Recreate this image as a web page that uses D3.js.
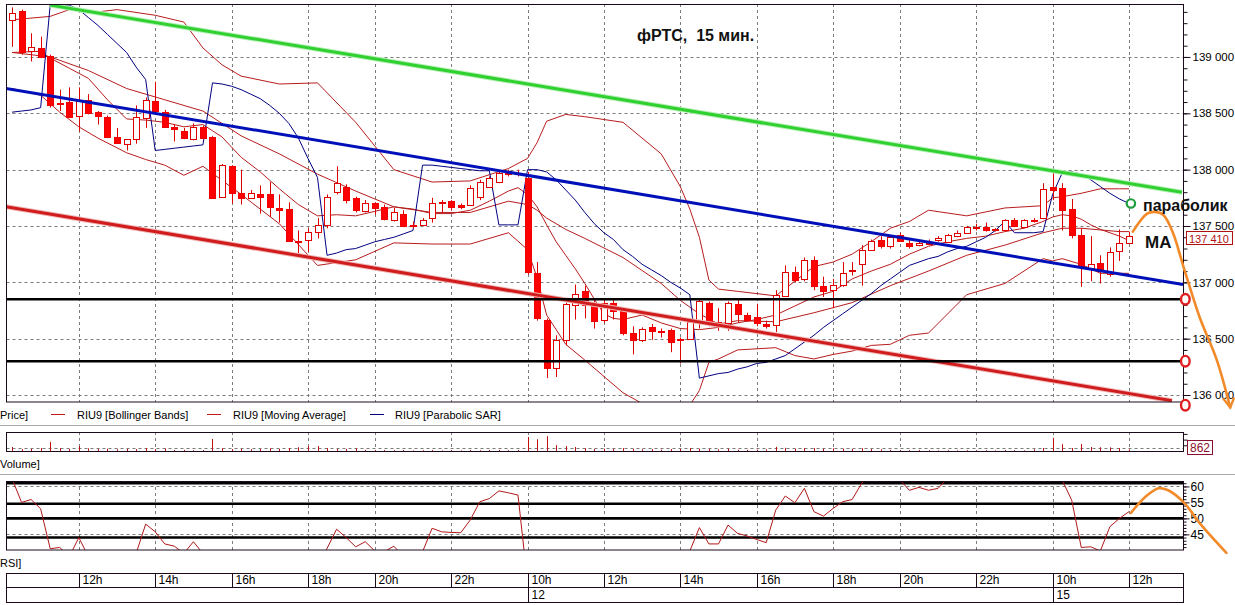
<!DOCTYPE html>
<html><head><meta charset="utf-8">
<script src="https://cdn.jsdelivr.net/npm/d3@7"></script>
<style>
body{margin:0;background:#fff;}
text{font-family:"Liberation Sans",Arial,sans-serif;}
</style>
</head><body>
<svg id="chart" width="1235" height="605"></svg>
<script>
// ---------------- DATA ----------------
const candleOpen=[139330,139410,139050,139080,139010,138590,138600,138480,138620,138510,138470,138290,138230,138270,138460,138610,138510,138380,138340,138270,138380,138290,137760,138030,137790,137750,137780,137780,137660,137650,137370,137380,137450,137510,137800,137850,137750,137630,137700,137670,137550,137610,137510,137510,137570,137700,137720,137690,137690,137760,137850,137890,137990,137970,137930,137080,136670,136240,136490,136800,136920,136800,136670,136820,136750,136550,136490,136600,136570,136580,136500,136500,136670,136820,136650,136640,136810,136710,136690,136630,136620,136880,137090,137030,137200,136970,136930,136980,137100,137160,137290,137380,137320,137420,137350,137330,137360,137380,137360,137410,137440,137480,137490,137460,137460,137550,137490,137550,137570,137850,137840,137650,137420,137130,137170,137070,137280,137350];
const candleHigh=[139440,139420,139210,139180,139020,138710,138730,138730,138670,138520,138480,138370,138270,138570,138640,138780,138530,138400,138370,138410,138390,138300,138050,138040,138000,137820,137860,137890,137780,137710,137460,137480,137570,137780,138030,137870,137760,137730,137710,137690,137660,137640,137540,137570,137750,137730,137730,137700,137860,137910,137940,137990,138000,138000,137980,137180,136680,136530,136820,136980,136970,136840,136860,136860,136760,136610,136600,136630,136590,136590,136510,136680,136850,136830,136770,136830,136850,136730,136810,136660,136930,137150,137140,137220,137230,137050,137030,137180,137180,137330,137380,137410,137420,137440,137380,137370,137380,137410,137430,137460,137500,137520,137530,137480,137560,137570,137560,137570,137880,137980,137880,137740,137480,137410,137240,137310,137470,137450];
const candleLow=[139090,139020,138960,138990,138550,138520,138460,138340,138490,138400,138280,138230,138170,138230,138370,138510,138370,138250,138270,138260,138270,137740,137750,137700,137690,137740,137610,137580,137530,137360,137240,137270,137390,137480,137780,137700,137620,137620,137600,137550,137540,137490,137480,137500,137530,137620,137640,137650,137680,137730,137840,137880,137940,137940,137070,136660,136150,136160,136440,136670,136680,136590,136640,136670,136530,136360,136470,136490,136510,136380,136280,136490,136590,136610,136570,136570,136640,136650,136610,136590,136560,136870,137000,137010,136930,136870,136770,136960,137060,136970,137280,137300,137300,137360,137300,137320,137330,137360,137350,137400,137430,137460,137450,137450,137450,137490,137480,137530,137560,137730,137460,137390,136960,137010,136990,137050,137190,137340];
const candleClose=[139390,139040,139090,139000,138570,138580,138470,138620,138500,138480,138290,138240,138270,138470,138620,138520,138380,138360,138280,138380,138280,137750,138040,137790,137750,137790,137760,137670,137640,137370,137360,137450,137510,137760,137880,137730,137640,137700,137660,137560,137620,137500,137500,137550,137700,137710,137670,137670,137840,137890,137930,137970,137960,137960,137090,136680,136240,136490,136810,136900,136800,136660,136820,136750,136550,136490,136590,136570,136560,136470,136490,136650,136830,136630,136620,136820,136720,136670,136640,136610,136890,137090,137020,137200,136970,136920,136980,137080,137110,137290,137370,137320,137400,137370,137320,137350,137340,137390,137420,137440,137490,137490,137460,137470,137550,137500,137550,137540,137830,137820,137640,137420,137140,137160,137100,137270,137350,137410];
const volume=[2100,1000,1100,1600,4800,1500,1000,2600,1400,1000,1200,900,1100,1000,1500,1000,1300,500,600,400,500,6300,1500,1000,1100,900,1000,1400,1100,1600,2000,2500,2600,1500,1000,1100,1400,600,500,500,400,500,300,400,500,300,400,300,500,400,500,600,400,500,7400,6200,7800,3100,2600,2100,1500,1000,1200,1000,1500,1100,900,1000,700,1000,1100,1600,1100,1000,900,1200,700,600,700,900,2200,1700,1200,1500,1600,1200,1400,1100,1000,1500,1000,900,600,500,400,500,400,300,400,300,400,300,400,300,500,400,300,900,1600,6900,3600,1600,3700,2100,2000,1900,1500,862];
const rsi=[62.5,55,55.9,53,40.5,40.9,38,44,38,35,33,34,36,39,48.2,45.8,42,41.3,39,42.7,39,30,34,31,30,31,30,28,27,24,25,29,33,40.6,46.6,44,41.1,42.7,39.8,39.6,41.3,38,37.5,39.5,46.9,45.8,45.6,45.5,49.5,55.2,56.2,58.6,58,57.3,30,24,19,26,33,35,33,31,35,34,30,29,32,31.5,31.5,29.5,30,39.8,47.1,42,42,47.9,45.3,44.5,43.4,42.4,52.6,57,54.9,59.4,52.1,50.7,53.1,55.2,55.9,61,63.5,62,63,62,58.8,59.7,58.8,59.4,62.5,63.5,65,65,64,64,66,63,64.5,64.5,70,69,62,55.7,40.9,41.1,39.8,47.4,50,52.1];
const sar=[138510,138520,138530,138550,139460,139460,139460,139420,139350,139280,139200,139120,139040,138910,138800,138170,138180,138190,138200,138210,138220,138770,138760,138740,138710,138670,138630,138570,138500,138410,138280,138100,137930,137240,137260,137290,137300,137330,137360,137380,137400,137430,137460,138040,138040,138030,138020,138010,138000,137990,137990,137510,137510,137510,138000,138000,137980,137910,137820,137730,137620,137520,137440,137380,137290,137230,137160,137110,137060,137000,136950,136890,136150,136170,136190,136200,136230,136250,136280,136290,136320,136350,136410,136470,136530,136600,136660,136720,136780,136840,136900,136970,137030,137090,137150,137180,137210,137230,137270,137300,137320,137360,137400,137460,137540,137440,137440,137440,137450,137780,137970,137980,137960,137910,137850,137790,137740,137700];
const bbUpperIdx=[0,4,6,9,11,15,18,20,22,24,28,32,36,40,44,48,52,54,55,56,58,60,64,68,70,71,72,73,74,76,80,82,84,86,88,90,92,94,96,100,104,108,109,110,112,114,116,117];
const bbUpperVal=[139330,139360,139420,139400,139420,139370,139310,139080,138930,138830,138760,138770,138420,138000,137890,137900,138010,138100,138240,138430,138490,138470,138420,138140,137850,137650,137400,137020,136940,136920,136880,137010,137140,137180,137250,137360,137480,137540,137640,137590,137660,137680,137750,137760,137790,137830,137830,137830];
const bbMidIdx=[0,4,8,12,16,20,24,28,32,36,40,44,48,52,54,55,56,58,60,64,68,70,72,74,76,80,84,88,92,96,100,104,108,110,112,116,117];
const bbMidVal=[139040,139000,138880,138720,138620,138520,138300,138140,137960,137810,137670,137620,137620,137720,137690,137640,137570,137470,137390,137220,136990,136840,136720,136630,136660,136650,136730,136820,136970,137100,137240,137330,137440,137480,137480,137450,137450];
const bbLowIdx=[0,3,5,7,9,12,14,16,18,20,24,28,32,36,40,44,48,52,54,55,56,58,60,64,68,70,71,72,73,74,76,80,82,84,86,88,90,92,94,96,100,104,108,109,110,112,114,116,117];
const bbLowVal=[138720,138660,138510,138380,138280,138150,138090,138040,137950,138030,137780,137520,137150,137200,137350,137340,137340,137440,137290,137040,136710,136450,136310,136020,135830,135830,135910,136040,136290,136320,136400,136420,136350,136320,136360,136390,136440,136450,136530,136550,136890,136990,137210,137190,137210,137160,137080,137080,137080];
const maIdx=[0,3,4,6,8,10,12,14,16,18,20,22,24,26,28,30,32,34,36,38,40,42,44,46,48,50,52,53,54,55,56,57,58,59,60,61,62,63,64,66,68,70,72,74,76,78,80,82,84,86,88,90,92,94,96,98,100,102,104,106,108,109,110,111,112,113,114,115,116,117];
const maVal=[139040,139050,138990,138900,138810,138620,138450,138440,138420,138380,138400,138290,138110,137980,137830,137690,137590,137600,137590,137630,137670,137650,137610,137610,137640,137720,137810,137840,137780,137670,137510,137360,137240,137120,136990,136850,136720,136680,136670,136710,136640,136590,136580,136600,136640,136670,136710,136790,136870,136920,137030,137100,137160,137250,137320,137360,137390,137410,137450,137480,137540,137580,137600,137590,137560,137510,137470,137440,137410,137370];

const timeTickIdx=[7,15,23,31,38,46,54,62,70,78,86,93,101,109,117];
const timeTickLabels=['12h','14h','16h','18h','20h','22h','10h','12h','14h','16h','18h','20h','22h','10h','12h'];
const dateTickIdx=[54,109];
const dateTickLabels=['12','15'];
const priceTicks=[136000,136500,137000,137500,138000,138500,139000];
const rsiTicks=[45,50,55,60];
const rsiGrid=[45,60];
const rsiLevels=[61,54.6,50,44];
const supportLevels=[136850,136300];
const trendGreen=[[3.98,139460],[122.55,137800]];
const trendBlue=[[-0.63,138720],[122.66,136980]];
const trendRed=[[-0.63,137670],[121.5,135950]];
const orangeMain=[[117.4,137450],[118.9,137610],[119.7,137625],[120.6,137598],[121.6,137440],[122.7,137140],[124.4,136690],[126.2,136310],[127.6,135890]];
const orangeRsi=[[117.2,51.7],[118.7,56.7],[120.1,59.4],[121.1,58.8],[122.8,54.8],[124.4,48.5],[127.2,39.2]];
const redMarks=[136850,136300,135910];
const legendItems=[{label:'RIU9 [Bollinger Bands]',color:'#c01818'},{label:'RIU9 [Moving Average]',color:'#c01818'},{label:'RIU9 [Parabolic SAR]',color:'#000080'}];

// ---------------- LAYOUT ----------------
const svg=d3.select('#chart');
const X0=6.5, X1=1183.5;
const x=d3.scaleLinear().domain([0,117]).range([12,1129]);
const yP=d3.scaleLinear().domain([135938,139470]).range([402,4]);
const yV=d3.scaleLinear().domain([0,10000]).range([451,432]);
const yR=d3.scaleLinear().domain([40.1,61.7]).range([550,481]);
const cr=v=>Math.round(v)+0.5;
const frame='#1c0a1c', grid='#7c7c7c', ind='#b81c1c';

svg.append('rect').attr('width',1235).attr('height',605).attr('fill','#fff');
const defs=svg.append('defs');
defs.append('clipPath').attr('id','cm').append('rect').attr('x',X0).attr('y',4.5).attr('width',X1-X0).attr('height',397.5);
defs.append('clipPath').attr('id','cr').append('rect').attr('x',X0).attr('y',481.5).attr('width',X1-X0).attr('height',68.5);

// separators
[425.5,474.5].forEach(yy=>svg.append('line').attr('x1',0).attr('x2',1235).attr('y1',yy).attr('y2',yy).attr('stroke','#a8a8a8'));

// ---------- MAIN PANEL ----------
const gm=svg.append('g');
timeTickIdx.forEach(i=>gm.append('line').attr('x1',cr(x(i))).attr('x2',cr(x(i))).attr('y1',4).attr('y2',402).attr('stroke',grid).attr('stroke-dasharray','3,3'));
priceTicks.forEach(p=>gm.append('line').attr('x1',X0).attr('x2',X1).attr('y1',cr(yP(p))).attr('y2',cr(yP(p))).attr('stroke',grid).attr('stroke-dasharray','3,3'));

const gc=svg.append('g').attr('clip-path','url(#cm)');
const lineP=d3.line().x(d=>x(d[0])).y(d=>yP(d[1]));
const zip=(a,b)=>a.map((v,k)=>[v,b[k]]);
[[bbUpperIdx,bbUpperVal],[bbMidIdx,bbMidVal],[bbLowIdx,bbLowVal],[maIdx,maVal]].forEach(([a,b])=>
  gc.append('path').attr('d',lineP(zip(a,b))).attr('fill','none').attr('stroke',ind).attr('stroke-width',1));
gc.append('path').attr('d',lineP(sar.map((v,i)=>[i,v]))).attr('fill','none').attr('stroke','#000080').attr('stroke-width',1);

// candles
candleOpen.forEach((o,i)=>{
  const c=candleClose[i],h=candleHigh[i],l=candleLow[i];
  const cx=cr(x(i));
  gc.append('line').attr('x1',cx).attr('x2',cx).attr('y1',yP(h)).attr('y2',yP(l)).attr('stroke','#e00000');
  const top=Math.round(yP(Math.max(o,c))), bot=Math.round(yP(Math.min(o,c)));
  const bear=c<o;
  gc.append('rect').attr('x',cx-3).attr('y',top+0.5).attr('width',6).attr('height',Math.max(1,bot-top))
    .attr('fill',bear?'#ff0000':'#ffffff').attr('stroke',bear?'#f00000':'#e00000');
});

// trend lines
gc.append('path').attr('d',lineP(trendGreen)).attr('stroke','#b8f0b8').attr('stroke-width',5).attr('fill','none');
gc.append('path').attr('d',lineP(trendGreen)).attr('stroke','#30d030').attr('stroke-width',3).attr('fill','none');
gc.append('path').attr('d',lineP(trendBlue)).attr('stroke','#0010b8').attr('stroke-width',3).attr('fill','none');
gc.append('path').attr('d',lineP(trendRed)).attr('stroke','#f0b8b8').attr('stroke-width',5).attr('fill','none');
gc.append('path').attr('d',lineP(trendRed)).attr('stroke','#d01c1c').attr('stroke-width',3).attr('fill','none');
supportLevels.forEach(p=>gc.append('line').attr('x1',X0).attr('x2',X1).attr('y1',yP(p)).attr('y2',yP(p)).attr('stroke','#000').attr('stroke-width',2.6));

// frame
svg.append('rect').attr('x',X0).attr('y',4.5).attr('width',X1-X0).attr('height',397.5).attr('fill','none').attr('stroke',frame);

// price axis
const minorP=d3.range(136000,139401,100);
const axM=svg.append('g').attr('transform',`translate(${X1},0)`).call(d3.axisRight(yP).tickValues(minorP).tickSize(4).tickFormat(''));
axM.select('.domain').remove();
axM.selectAll('line').attr('stroke',frame);
const axP=svg.append('g').attr('transform',`translate(${X1},0)`).call(d3.axisRight(yP).tickValues(priceTicks).tickSize(7).tickPadding(2).tickFormat(d=>d3.format(',')(d).replace(',',' ')));
axP.select('.domain').remove();
axP.selectAll('line').attr('stroke',frame);
axP.selectAll('text').attr('font-size',11.5).attr('font-family','"Liberation Sans",Arial,sans-serif').attr('fill','#000');

// last price box
const lastC=candleClose[candleClose.length-1];
const ly=Math.round(yP(lastC));
svg.append('rect').attr('x',1186.5).attr('y',ly-4.5).attr('width',46).attr('height',13).attr('fill','#fff').attr('stroke','#b01010');
svg.append('text').attr('x',1189).attr('y',ly+6.5).attr('font-size',11).attr('fill','#b01010').text(d3.format(',')(lastC).replace(',',' '));

// annotations
svg.append('text').attr('x',637).attr('y',41).attr('font-size',16).attr('font-weight','bold').attr('fill','#111').style('white-space','pre').text('фРТС,  15 мин.');
const curve=d3.line().x(d=>x(d[0])).y(d=>yP(d[1])).curve(d3.curveCatmullRom);
svg.append('path').attr('d',curve(orangeMain)).attr('fill','none').attr('stroke','#f28a2a').attr('stroke-width',2.6).attr('stroke-linecap','round');
const endP=orangeMain[orangeMain.length-1];
const ex=x(endP[0]), ey=yP(endP[1]);
svg.append('path').attr('d',`M${ex-7},${ey-9}L${ex},${ey}L${ex+4},${ey-10}`).attr('fill','none').attr('stroke','#f28a2a').attr('stroke-width',2.4);
redMarks.forEach(p=>svg.append('ellipse').attr('cx',x(122.9)).attr('cy',yP(p)).attr('rx',4.3).attr('ry',5.3).attr('fill','#fff').attr('stroke','#e02020').attr('stroke-width',2.4));
svg.append('circle').attr('cx',x(117.2)).attr('cy',yP(sar[sar.length-1])).attr('r',4.2).attr('fill','#fff').attr('stroke','#1e9e3e').attr('stroke-width',2.2);
svg.append('text').attr('x',1143).attr('y',211).attr('font-size',16).attr('font-weight','bold').attr('fill','#111').text('параболик');
svg.append('text').attr('x',1145).attr('y',248).attr('font-size',17).attr('font-weight','bold').attr('fill','#111').text('МА');

// legend row
svg.append('text').attr('x',0).attr('y',419).attr('font-size',11).text('Price]');
const legX=[[51,77],[207,233],[370,395]];
legendItems.forEach((d,k)=>{
  svg.append('line').attr('x1',legX[k][0]).attr('x2',legX[k][0]+14).attr('y1',414.5).attr('y2',414.5).attr('stroke',d.color);
  svg.append('text').attr('x',legX[k][1]).attr('y',419).attr('font-size',11).text(d.label);
});

// ---------- VOLUME ----------
const gv=svg.append('g');
timeTickIdx.forEach(i=>gv.append('line').attr('x1',cr(x(i))).attr('x2',cr(x(i))).attr('y1',432).attr('y2',451).attr('stroke',grid).attr('stroke-dasharray','3,3'));
gv.append('line').attr('x1',X0).attr('x2',X1).attr('y1',cr(yV(1500))).attr('y2',cr(yV(1500))).attr('stroke',grid).attr('stroke-dasharray','3,3');
volume.forEach((v,i)=>gv.append('line').attr('x1',cr(x(i))).attr('x2',cr(x(i))).attr('y1',yV(0)).attr('y2',yV(v)).attr('stroke','#c01010'));
svg.append('rect').attr('x',X0).attr('y',432.5).attr('width',X1-X0).attr('height',19).attr('fill','none').attr('stroke',frame);
const axV=svg.append('g').attr('transform',`translate(${X1},0)`).call(d3.axisRight(yV).tickValues([3000,6000,9000]).tickSize(4).tickFormat(''));
axV.select('.domain').remove(); axV.selectAll('line').attr('stroke',frame);
const lastV=volume[volume.length-1];
svg.append('rect').attr('x',1187.5).attr('y',440.5).attr('width',25).attr('height',14).attr('fill','#fff').attr('stroke','#8a1030');
svg.append('text').attr('x',1190).attr('y',452).attr('font-size',12).attr('fill','#8a1030').text(lastV);
svg.append('text').attr('x',0).attr('y',468).attr('font-size',11).text('Volume]');

// ---------- RSI ----------
const gr=svg.append('g');
timeTickIdx.forEach(i=>gr.append('line').attr('x1',cr(x(i))).attr('x2',cr(x(i))).attr('y1',481).attr('y2',550).attr('stroke',grid).attr('stroke-dasharray','3,3'));
rsiGrid.forEach(r=>gr.append('line').attr('x1',X0).attr('x2',X1).attr('y1',cr(yR(r))).attr('y2',cr(yR(r))).attr('stroke',grid).attr('stroke-dasharray','3,3'));
rsiLevels.forEach(r=>gr.append('line').attr('x1',X0).attr('x2',X1).attr('y1',yR(r)).attr('y2',yR(r)).attr('stroke','#000').attr('stroke-width',2.6));
const lineR=d3.line().x((d,i)=>x(i)).y(d=>yR(d));
svg.append('g').attr('clip-path','url(#cr)').append('path').attr('d',lineR(rsi)).attr('fill','none').attr('stroke','#b01818').attr('stroke-width',1);
svg.append('rect').attr('x',X0).attr('y',481.5).attr('width',X1-X0).attr('height',68.5).attr('fill','none').attr('stroke',frame);
const axRm=svg.append('g').attr('transform',`translate(${X1},0)`).call(d3.axisRight(yR).tickValues(d3.range(41,62,1)).tickSize(3).tickFormat(''));
axRm.select('.domain').remove(); axRm.selectAll('line').attr('stroke',frame);
const axR=svg.append('g').attr('transform',`translate(${X1},0)`).call(d3.axisRight(yR).tickValues(rsiTicks).tickSize(6).tickPadding(1));
axR.select('.domain').remove(); axR.selectAll('line').attr('stroke',frame);
axR.selectAll('text').attr('font-size',12).attr('font-family','"Liberation Sans",Arial,sans-serif').attr('fill','#000');
const curveR=d3.line().x(d=>x(d[0])).y(d=>yR(d[1])).curve(d3.curveCatmullRom);
svg.append('path').attr('d',curveR(orangeRsi)).attr('fill','none').attr('stroke','#f28a2a').attr('stroke-width',2.6).attr('stroke-linecap','round');
svg.append('text').attr('x',0).attr('y',567).attr('font-size',11).text('RSI]');

// ---------- TIME AXIS ----------
const ga=svg.append('g');
ga.append('rect').attr('x',X0).attr('y',573.5).attr('width',X1-X0).attr('height',29).attr('fill','none').attr('stroke',frame);
ga.append('line').attr('x1',X0).attr('x2',X1).attr('y1',587.5).attr('y2',587.5).attr('stroke',frame);
timeTickIdx.forEach((i,k)=>{
  ga.append('line').attr('x1',cr(x(i))).attr('x2',cr(x(i))).attr('y1',573.5).attr('y2',587.5).attr('stroke',frame);
  ga.append('text').attr('x',cr(x(i))+3).attr('y',584).attr('font-size',12).text(timeTickLabels[k]);
});
dateTickIdx.forEach((i,k)=>{
  ga.append('line').attr('x1',cr(x(i))).attr('x2',cr(x(i))).attr('y1',587.5).attr('y2',602.5).attr('stroke',frame);
  ga.append('text').attr('x',cr(x(i))+3).attr('y',599).attr('font-size',12).text(dateTickLabels[k]);
});
</script>
</body></html>
